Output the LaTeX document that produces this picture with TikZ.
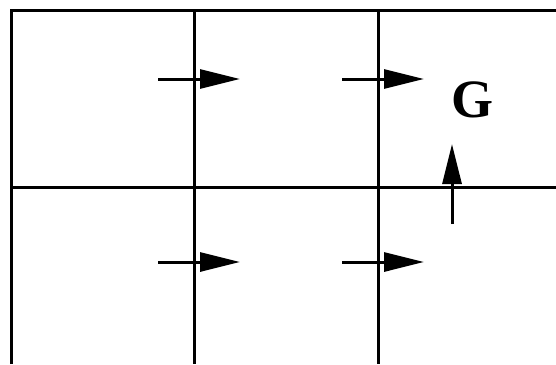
\documentclass[tikz,border=0pt]{standalone}
\usepackage{fontspec}
\setmainfont{Liberation Serif}
\usetikzlibrary{arrows.meta}

\begin{document}
\begin{tikzpicture}[
    x=1pt, y=-1pt,
    gridline/.style={
        line width=3pt
    },
    move/.style={
        -{Triangle[length=40pt, width=19pt]},
        line width=3pt
    },
    goal/.style={
        font=\fontsize{54}{60}\selectfont\bfseries
    }
]
\useasboundingbox (0,0) rectangle (556,364);

% Grid
\draw[gridline] (11,364) |- (556,10);
\draw[gridline] (194,10) -- (194,364);
\draw[gridline] (378,10) -- (378,364);
\draw[gridline] (11,187) -- (556,187);

% Goal
\node[goal] (G) at (472,100) {G};

% Arrow ends
\coordinate (r1a) at (158,79);  \coordinate (r1b) at (240,79);
\coordinate (r1c) at (342,79);  \coordinate (r1d) at (424,79);
\coordinate (r2a) at (158,262); \coordinate (r2b) at (240,262);
\coordinate (r2c) at (342,262); \coordinate (r2d) at (424,262);
\coordinate (up1) at (452,224); \coordinate (up2) at (452,144);

% Arrows
\draw[move] (r1a) -- (r1b);
\draw[move] (r1c) -- (r1d);
\draw[move] (r2a) -- (r2b);
\draw[move] (r2c) -- (r2d);
\draw[move] (up1) -- (up2);

\end{tikzpicture}
\end{document}
